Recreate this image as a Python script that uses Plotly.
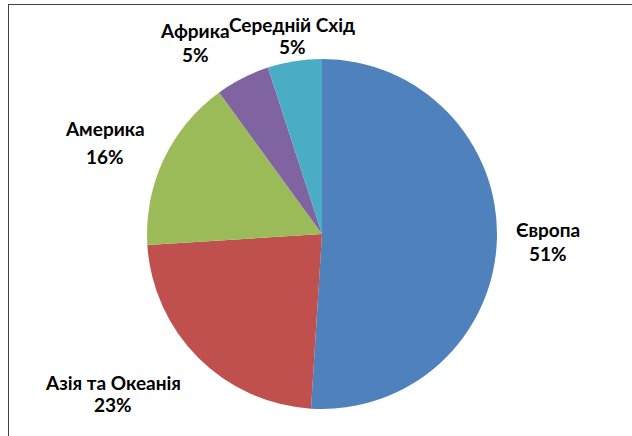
import plotly.graph_objects as go

regions = ["Європа", "Азія та Океанія", "Америка", "Африка", "Середній Схід"]
shares = [51, 23, 16, 5, 5]
colors = ["#4F81BD", "#C0504D", "#9BBB59", "#8064A2", "#4BACC6"]

W, H = 632, 436

fig = go.Figure(go.Pie(
    labels=regions,
    values=shares,
    sort=False,
    direction="clockwise",
    rotation=0,
    marker=dict(colors=colors, line=dict(width=0)),
    textinfo="none",
    hoverinfo="label+percent",
    showlegend=False,
    domain=dict(x=[147 / W, 497 / W], y=[27 / H, 377 / H]),
))

# label placement (pixel centres of name line and percent line)
label_pos = {
    "Європа": ((548, 230), (548, 254)),
    "Азія та Океанія": ((113, 382), (113, 404)),
    "Америка": ((105, 129), (105, 156)),
    "Африка": ((195, 30), (195, 55)),
    "Середній Схід": ((292, 24), (292, 47)),
}
total = sum(shares)
font = dict(family="Lato, Open Sans, sans-serif", size=19, color="#000000")
for name, v in zip(regions, shares):
    (nx, ny), (px, py) = label_pos[name]
    pct = f"{round(100 * v / total)}%"
    for txt, x, y in ((f"<b>{name}</b>", nx, ny), (f"<b>{pct}</b>", px, py)):
        fig.add_annotation(x=x / W, y=1 - y / H, xref="paper", yref="paper",
                           text=txt, showarrow=False, font=font,
                           xanchor="center", yanchor="middle")

fig.update_layout(width=W, height=H, margin=dict(l=0, r=0, t=0, b=0),
                  paper_bgcolor="white", plot_bgcolor="white")

# page setup: no body margin, and the chart-area frame (left and top edges)
post = (
    "document.body.style.margin='0';"
    "document.body.style.overflow='hidden';"
    "var f=document.createElement('div');"
    "f.style.cssText='position:absolute;left:8px;top:4px;width:640px;height:440px;"
    "border-left:1px solid #404040;border-top:1px solid #404040;pointer-events:none;';"
    "document.body.appendChild(f);"
)
fig.write_html("out.html", config={"displayModeBar": False}, post_script=post)
